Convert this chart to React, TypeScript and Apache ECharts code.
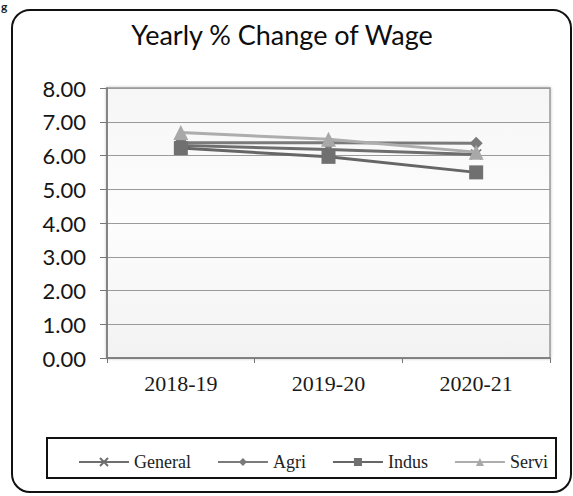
import React, { useEffect, useRef } from "react";
import * as echarts from "echarts";

const categories = ["2018-19", "2019-20", "2020-21"];
const generalValues = [6.3, 6.18, 6.03];
const agriValues = [6.38, 6.38, 6.36];
const indusValues = [6.22, 5.96, 5.5];
const serviValues = [6.68, 6.48, 6.1];
const yTicks = { min: 0, max: 8, interval: 1 };

export default function App() {
  const ref = useRef<HTMLDivElement>(null);
  useEffect(() => {
    if (!ref.current) return;
    const chart = echarts.init(ref.current, undefined, { renderer: "svg" });
    const serif = "'Liberation Serif', 'DejaVu Serif', serif";
    const sans = "Lato, 'Open Sans', sans-serif";
    chart.setOption({
      animation: false,
      backgroundColor: "#ffffff",
      title: {
        text: "Yearly % Change of Wage",
        left: 277,
        textAlign: "center",
        top: 16,
        textStyle: { fontFamily: sans, fontSize: 27, fontWeight: "normal", color: "#0d0d0d" },
      },
      graphic: [
        {
          type: "rect",
          shape: { x: 12, y: 10, width: 559, height: 482, r: 18 },
          style: { fill: "none", stroke: "#111", lineWidth: 2 },
          z: -1,
        },
        {
          type: "rect",
          shape: { x: 47, y: 438, width: 509, height: 40 },
          style: { fill: "none", stroke: "#111", lineWidth: 2 },
          z: -1,
        },
        {
          type: "text",
          x: 1,
          y: 0,
          style: { text: "g", fontFamily: sans, fontSize: 12, fontWeight: "bold", fill: "#222" },
        },
      ],
      legend: {
        left: 73,
        top: 448,
        itemWidth: 50,
        itemHeight: 10,
        itemGap: 26,
        lineStyle: { width: 2 },
        textStyle: { fontFamily: serif, fontSize: 18, color: "#222" },
        data: ["General", "Agri", "Indus", "Servi"],
      },
      grid: {
        left: 107,
        right: 23,
        top: 88,
        bottom: 138,
        show: true,
        backgroundColor: {
          type: "linear",
          x: 0,
          y: 0,
          x2: 0,
          y2: 1,
          colorStops: [
            { offset: 0, color: "#f6f6f6" },
            { offset: 0.5, color: "#fdfdfd" },
            { offset: 1, color: "#f2f2f2" },
          ],
        },
        borderColor: "#999",
        borderWidth: 1.5,
        shadowBlur: 3,
        shadowColor: "rgba(0,0,0,0.25)",
      },
      xAxis: {
        type: "category",
        data: categories,
        boundaryGap: true,
        axisLine: { show: true, lineStyle: { color: "#777", width: 1.5 } },
        axisTick: { show: true, length: 5, lineStyle: { color: "#777" } },
        axisLabel: { fontFamily: serif, fontSize: 22, color: "#1a1a1a", margin: 14 },
      },
      yAxis: {
        type: "value",
        min: yTicks.min,
        max: yTicks.max,
        interval: yTicks.interval,
        axisLine: { show: true, lineStyle: { color: "#777", width: 1.5 } },
        axisTick: { show: true, length: 7, lineStyle: { color: "#777" } },
        axisLabel: {
          fontFamily: sans,
          fontSize: 22,
          color: "#151515",
          margin: 21,
          formatter: (v: number) => v.toFixed(2),
        },
        splitLine: { show: true, lineStyle: { color: "#9a9a9a", width: 1 } },
      },
      series: [
        {
          name: "General",
          type: "line",
          data: generalValues,
          symbol: "path://M0 0L10 10M10 0L0 10",
          symbolSize: 10,
          lineStyle: { color: "#6e6e6e", width: 3 },
          itemStyle: { color: "#6e6e6e", borderColor: "#6e6e6e", borderWidth: 1.5 },
          z: 2,
        },
        {
          name: "Agri",
          type: "line",
          data: agriValues,
          symbol: "diamond",
          symbolSize: 13,
          lineStyle: { color: "#7a7a7a", width: 3 },
          itemStyle: { color: "#7a7a7a" },
          z: 3,
        },
        {
          name: "Indus",
          type: "line",
          data: indusValues,
          symbol: "rect",
          symbolSize: 14,
          lineStyle: { color: "#666666", width: 3 },
          itemStyle: { color: "#707070" },
          z: 4,
        },
        {
          name: "Servi",
          type: "line",
          data: serviValues,
          symbol: "triangle",
          symbolSize: 15,
          lineStyle: { color: "#adadad", width: 3 },
          itemStyle: { color: "#a8a8a8" },
          z: 5,
        },
      ],
    });
    return () => chart.dispose();
  }, []);
  return (
    <div
      ref={ref}
      style={{ position: "absolute", left: 0, top: 0, width: 573, height: 496 }}
    />
  );
}
